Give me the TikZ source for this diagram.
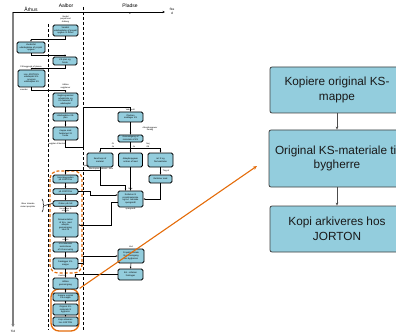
\documentclass[tikz,border=0pt]{standalone}
\usepackage{fontspec}
\setmainfont{Liberation Sans}
\usetikzlibrary{arrows.meta,calc,decorations.pathreplacing}
\definecolor{boxblue}{HTML}{93CDDD}
\definecolor{flowor}{HTML}{E46C0A}
\definecolor{axisgray}{HTML}{808080}
\begin{document}
\begin{tikzpicture}[x=1pt,y=-1pt,
  bx/.style={draw=black, line width=0.85pt, fill=boxblue, rounded corners=1.5pt,
    inner sep=0.2pt, align=center, font=\fontsize{2.2}{2.6}\selectfont},
  box/.style 2 args={bx, minimum width=#1pt, minimum height=#2pt, text width=#1pt-2pt},
  lbl/.style={inner sep=0pt, align=center, font=\fontsize{2.1}{2.5}\selectfont},
  hdr/.style={inner sep=0pt, font=\fontsize{5}{5.5}\selectfont},
  cn/.style={draw=black, line width=0.55pt, -{Stealth[length=1.8pt,width=1.6pt]}},
  plain/.style={draw=black, line width=0.55pt},
  lane/.style={draw=black, line width=0.8pt, dash pattern=on 3pt off 2pt},
  bigbox/.style={draw=black!75, line width=0.8pt, fill=boxblue, rounded corners=2pt,
    align=center, text=black!90, font=\fontsize{11.8}{14.5}\selectfont},
  bigarrow/.style={draw=black!70, line width=0.6pt, -{Stealth[length=3pt,width=2.6pt]}}
]
\useasboundingbox (0,0) rectangle (396,334);
\clip (0,0) rectangle (396,334);

% ---- axes and lanes ----
\coordinate (origin) at (13,12);
\coordinate (timeend) at (13,327);
\coordinate (placeend) at (165,12);
\draw[axisgray, line width=1.5pt, -{Stealth[length=3pt,width=3pt]}] (origin) -- (timeend);
\draw[black, line width=0.6pt, -{Stealth[length=2.5pt,width=2.2pt]}] (origin) -- (placeend);
\node[hdr] (tid) at (13,331) {\fontsize{3}{3}\selectfont Tid};
\node[hdr] (hA) at (31,9) {Århus};
\node[hdr] (hB) at (66,6) {Aalbor};
\node[hdr] (hC) at (130,6) {Pladse};
\node[hdr, align=center, font=\fontsize{3.2}{4.5}\selectfont] (hD) at (172,11.5) {Ste\\d};
\node[lbl] (mk) at (130,14) {m};

\draw[lane] (48,24) -- (48,330);
\draw[lane] (83,7) -- (83,330);

% ---- orange groupings ----
\draw[flowor, line width=1.2pt, dash pattern=on 3pt off 2pt, rounded corners=8pt]
  (50,171) rectangle (82,273);
\node[draw=flowor, line width=1.3pt, rounded corners=8pt, minimum width=28pt,
  minimum height=42pt, inner sep=0pt] (grp) at (65,310) {};

% ---- Aarhus / Aalborg column ----
\node[lbl] (l0) at (65.5,19) {Vandet\\projekt ved\\Aalborg};
\node[box={25}{11}] (A1) at (65.5,30.5) {Vandret\\udarbejdelse af projekt\\opgave til Århus};
\node[box={28}{11}] (A2) at (31,47.5) {Vandrettet\\udarbejdelse af projekt\\opgave};
\node[box={24}{8}] (A3) at (65,61) {KS-plan og\\fonde};
\node[lbl] (l1) at (31,67.3) {På baggrund af planen};
\node[box={27}{17}] (A4) at (31.5,78.5) {Hos JORTON's\\udarbejdet KS-\\program\\udarbejdes KS};
\node[lbl] (l2) at (24,89.5) {vaarden};
\node[lbl] (l3) at (65.5,86.5) {Udføre\\vagtplaner};
\node[box={25}{14}] (A6) at (65.5,100) {Vagtprogrammer\\arbejdsliste og\\KS-materiel til\\udarbejdet};
\node[box={25}{8}] (A7) at (65.5,117) {Udarbejdelse KS-\\plan};
\node[box={25}{13}] (A8) at (65.5,133.5) {mappe med\\fundament til\\fonde};
\node[lbl] (l4) at (57,143.5) {vagtplan til kontrol};

% ---- Pladsen column ----
\node[lbl] (l5) at (130.5,110) {Ved modt.};
\node[box={25}{10}] (P1) at (130.5,117) {Pladsen\\modtager KS};
\node[lbl] (l6) at (150,129) {Arbejdsopgaver\\fremlig};
\node[box={25}{7}] (P2) at (130.5,138.5) {Gennemgang af\\materiale af KS};
\node[lbl] (l7) at (113,145.5) {Gi\\Ja};
\node[lbl] (l8) at (134,147) {Ja};
\node[lbl] (l9) at (148,145.5) {Nej\\Gå};
\node[box={26}{14}] (B1) at (100,160) {Send kopi af\\materiel};
\node[box={24}{14}] (B2) at (130.5,160) {Arbejdsopgaver\\ordnes af med};
\node[box={25}{14}] (B3) at (160.5,160) {ret til og\\fremsættelse};
\node[lbl] (l10) at (101,169) {Ikke kopier materiel - Ikke};
\node[lbl] (l11) at (166,170.5) {Ting af};
\node[box={23}{8}] (B4) at (160.5,179) {Rettelser med};
\node[lbl] (l12) at (86,166) {Spørg};
\node[lbl] (l13) at (130.5,188.5) {Svar};
\node[box={25}{16}] (C) at (130.5,199) {Rettelser til\\projektmateriale\\og evt. tekniske\\spørgsmål};
\node[lbl] (l14) at (130.5,209) {spørgsmål};

% ---- Aalborg, control sequence ----
\node[box={25}{8}] (D1) at (65.5,179) {Send dagsorden\\på JORTONs};
\node[box={25}{5.5}] (D2) at (65.5,191.5) {på JORTONs};
\node[box={25}{5.5}] (D3) at (65.5,203.5) {Orden på mål};
\node[lbl] (l15) at (65.5,210) {Hvorledes til\\arbejde};
\node[box={25}{24}] (D4) at (65.5,225) {Dokumentation\\af bl.a. med\\arbejds-\\gennemgang\\tekst af};
\node[lbl] (l16) at (65.5,239.5) {udføre};
\node[box={25}{10}] (D5) at (65.5,247) {KS-materialet\\kontrolleres\\af KS-ansvarlig};
\node[box={25}{11}] (D6) at (65.5,263.5) {Færdiggør KS-\\mappe};
\node[lbl] (l17) at (62,276) {Kontrol};
\node[box={25}{11}] (D7) at (65.5,283.5) {Udføre\\gennemgang};
\node[box={25}{8}] (E1) at (65.5,297) {Kopiere original\\KS-mappe};
\node[box={25}{11}] (E2) at (65.5,309.5) {Original KS-\\materiale til\\bygherre};
\node[box={25}{9}] (E3) at (65.5,321.5) {Kopi arkiveres\\hos JORTON};

\node[lbl] (l18) at (131,247) {Ved};
\node[box={26}{14}] (F1) at (131,256) {Projektmateriale\\til gennemgang\\hos bygherren};
\node[box={25}{11}] (F2) at (130.5,274.5) {Evt. rettelser\\foretages};

\node[lbl] (l19) at (28,205.5) {Bleur tekende\\materi projekter};

% ---- connectors ----
\draw[cn] (A1.south) -- ++(0,3) -| (A2.north);
\draw[cn] (A2.south) -- ++(0,2) -| (A3.north);
\draw[cn] (A3.south) -- ++(0,2.5) -| (A4.north);
\draw[cn] (A4.south) -- ++(0,3) -| (A6.north);
\draw[cn] (A6.south) -- (A7.north);
\draw[cn] (A7.south) -- (A8.north);
\draw[cn] (A8.south) |- (83,147) |- (130.5,107) -- (P1.north);
\draw[cn] (P1.south) -- (P2.north);
\draw[plain] (P2.south) -- ++(0,6);
\draw[cn] ($(P2.south)+(0,6)$) -| (B1.north);
\draw[cn] ($(P2.south)+(0,6)$) -| (B3.north);
\draw[cn] (P2.south) -- (B2.north);
\draw[cn] (B3.south) -- (B4.north);
\draw[cn] (B1.south) |- ($(C.north)+(-5,-5)$) -- ($(C.north)+(-5,0)$);
\draw[cn] (B2.south) -- (C.north);
\draw[cn] (B1.south) -- ++(0,3) -| (D1.north);
\draw[cn] (B4.south) |- (C.east);
\draw[cn] (D2.east) -- ++(12,0) |- ($(C.west)+(0,-4)$);
\draw[cn] ($(C.west)+(0,3)$) -| ($(D4.east)+(33,0)$) -- (D4.east);
\draw[cn] (D1.south) -- (D2.north);
\draw[cn] (D2.south) -- (D3.north);
\draw[cn] (D3.south) -- (D4.north);
\draw[cn] (D4.south) -- (D5.north);
\draw[cn] (D5.south) -- (D6.north);
\draw[cn] (D6.south) -- (D7.north);
\draw[cn] (D7.south) -- (E1.north);
\draw[cn] (E1.south) -- (E2.north);
\draw[cn] (E2.south) -- (E3.north);
\draw[cn] (D6.east) -- ++(5,0) |- (F1.west);
\draw[cn] (F1.south) -- (F2.north);
\draw[cn] (F2.west) -| ($(D7.north east)+(-3,0)$);
\draw[line width=0.5pt, decorate, decoration={brace, amplitude=2pt}] (42,199) -- (42,212);
\draw[plain] (44.5,205.5) -- (D3.west);

% ---- enlarged detail ----
\node[bigbox, minimum width=134pt, minimum height=46pt] (R1) at (337,90) {Kopiere original KS-\\mappe};
\node[bigbox, minimum width=136pt, minimum height=57pt] (R2) at (337,158.5) {Original KS-materiale til\\bygherre};
\node[bigbox, minimum width=134pt, minimum height=46pt] (R3) at (337,229) {Kopi arkiveres hos\\JORTON};
\draw[bigarrow] (R1.south) -- (R2.north);
\draw[bigarrow] (R2.south) -- (R3.north);

\coordinate (zoomtip) at (257,166);
\draw[flowor, line width=1.1pt, -{Stealth[length=4pt,width=3.5pt]}] (grp.north east) -- (zoomtip);
\end{tikzpicture}
\end{document}
